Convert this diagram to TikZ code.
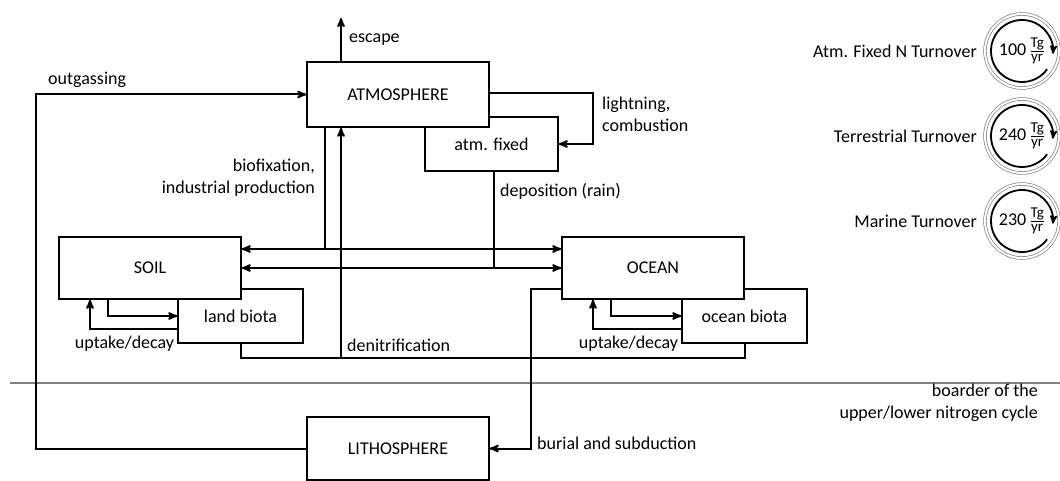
\documentclass[tikz,border=0pt]{standalone}
\usepackage{amsmath}
\usepackage{fontspec}
\setmainfont{Carlito}
\usetikzlibrary{arrows}
\usetikzlibrary{positioning}
\tikzstyle{pool} = [rectangle, draw=black, fill=white, line width=1.5pt, minimum width=182pt, minimum height=65pt, text centered]
\tikzstyle{biota} = [rectangle, draw=black, fill=white, line width=1.5pt, minimum width=125pt, minimum height=54pt, text centered]
\tikzstyle{flow} = [line width=2pt, -stealth']
\tikzstyle{both} = [line width=2pt, stealth'-stealth']
\tikzstyle{link} = [line width=2pt]
\tikzstyle{flowtext} = [inner sep=0pt, align=left]
\newcommand{\unitfrac}[2]{$\frac{\mbox{\fontsize{15}{15}\selectfont #1}}{\mbox{\fontsize{15}{15}\selectfont #2}}$}

\begin{document}
\begin{tikzpicture}[x=1pt, y=-1pt, font=\fontsize{18}{22}\selectfont]
\useasboundingbox (0,0) rectangle (1060,481);

 % reservoirs (biota first, so the big boxes cover them)
 \node (fixed) [biota, minimum width=133pt] at (491.5,144) {atm. fixed};
 \node (atm) [pool] at (398,94.5) {ATMOSPHERE};
 \node (landb) [biota] at (240.5,316) {land biota};
 \node (soil) [pool, minimum height=62pt] at (150,268) {SOIL};
 \node (oceanb) [biota] at (744.5,316) {ocean biota};
 \node (ocean) [pool, minimum height=62pt] at (653,268) {OCEAN};
 \node (litho) [pool, minimum height=63pt] at (398,448.5) {LITHOSPHERE};

 % border upper/lower cycle
 \coordinate (bl) at (10,383);
 \coordinate (br) at (1060,383);
 \draw[gray, line width=2pt] (bl) -- (br);
 \node (border) [flowtext, align=right, anchor=north east] at (1038,384) {boarder of the\\upper/lower nitrogen cycle};

 % escape
 \coordinate (esc) at (341,18);
 \draw[flow] (esc |- atm.north) -- (esc);
 \node (esctext) [flowtext, anchor=west] at (349,40) {escape};

 % outgassing
 \coordinate (og) at (36,94.5);
 \draw[flow] (litho.west) -| (og) -- (atm.west);
 \node (ogtext) [flowtext, anchor=west] at (48,80) {outgassing};

 % lightning
 \coordinate (lt) at (593,93);
 \draw[flow] (atm.east |- lt) -- (lt) |- (fixed.east);
 \node (lttext) [flowtext, anchor=west] at (602,114) {lightning,\\combustion};

 % biofixation
 \coordinate (bf) at (325,249);
 \draw[link] (bf |- atm.south) -- (bf);
 \draw[both] (soil.east |- bf) -- (ocean.west |- bf);
 \node (bftext) [flowtext, align=right, anchor=east] at (315,178) {biofixation,\\industrial production};

 % deposition
 \coordinate (dp) at (494,268);
 \draw[link] (dp |- fixed.south) -- (dp);
 \draw[both] (soil.east |- dp) -- (ocean.west |- dp);
 \node (dptext) [flowtext, anchor=west] at (500,191) {deposition (rain)};

 % denitrification
 \coordinate (dn) at (341,358);
 \draw[link] (landb.south) -- (landb.south |- dn) -- (oceanb.south |- dn) -- (oceanb.south);
 \draw[flow] (dn) -- (dn |- atm.south);
 \node (dntext) [flowtext, anchor=west] at (347,345) {denitrification};

 % burial and subduction
 \coordinate (bu) at (531,289);
 \draw[flow] (ocean.west |- bu) -- (bu) |- (litho.east);
 \node (butext) [flowtext, anchor=west] at (537,443) {burial and subduction};

 % uptake/decay
 \foreach \res/\bio in {soil/landb, ocean/oceanb} {
   \coordinate (\res up) at ([xshift=-42pt]\res.south);
   \coordinate (\res dn) at ([xshift=-60pt, yshift=-13pt]\res.south |- \bio.west);
   \draw[flow] (\res up) |- (\bio.west);
   \draw[flow] (\bio.west |- \res dn) -| (\res.south -| \res dn);
   \node (\res text) [flowtext, anchor=east] at ([xshift=-3pt]\bio.south west) {uptake/decay};
 }

 % turnover
 \foreach \name/\val/\ypos in {Atm. Fixed N Turnover/100/51, Terrestrial Turnover/240/136, Marine Turnover/230/221} {
   \node (turn\val) [circle, minimum size=60pt, inner sep=0pt] at (1022,\ypos) {\val\,\unitfrac{Tg}{yr}};
   \draw[gray, line width=0.7pt, double, double distance=2pt] (turn\val.center) circle (37pt);
   \draw[line width=1.8pt, -stealth'] ([shift={(324:31pt)}]turn\val.center) arc[start angle=324, end angle=-5, radius=31pt];
   \node (name\val) [flowtext, anchor=east] at (977,\ypos) {\name};
 }
\end{tikzpicture}
\end{document}
